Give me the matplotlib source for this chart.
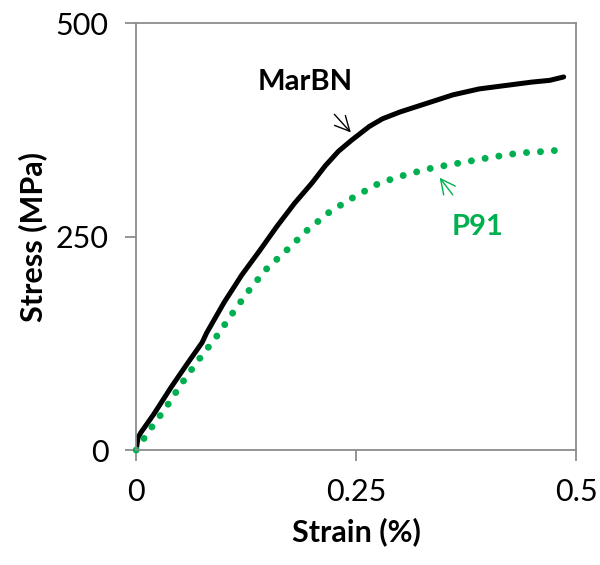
import matplotlib
matplotlib.use("Agg")
import matplotlib.pyplot as plt

# MarBN (solid black) - strain (%), stress (MPa)
marbn_strain = [0, 0.002, 0.005, 0.02, 0.04, 0.06, 0.075, 0.08, 0.09, 0.10, 0.12,
                0.14, 0.16, 0.18, 0.20, 0.215, 0.23, 0.245, 0.255, 0.265, 0.28, 0.30,
                0.33, 0.36, 0.39, 0.42, 0.45, 0.47, 0.486]
marbn_stress = [0, 14, 20, 42, 74, 104, 126, 137, 155, 173, 205,
                233, 262, 289, 313, 333, 350, 363, 371, 379, 388, 396,
                406, 416, 423, 427, 431, 433, 437]

# P91 (green dotted)
p91_strain = [0, 0.015, 0.034, 0.051, 0.069, 0.090, 0.108, 0.126, 0.147, 0.171,
              0.195, 0.220, 0.247, 0.277, 0.308, 0.339, 0.372, 0.404, 0.436, 0.469, 0.486]
p91_stress = [0, 23, 50, 77, 103, 131, 158, 184, 211, 234,
              258, 279, 296, 313, 323, 331, 337, 343, 348, 350, 352]

x_ticks = [0, 0.25, 0.5]
x_labels = ["0", "0.25", "0.5"]
y_ticks = [0, 250, 500]

green = "#00B050"
grey = "#8c8c8c"

plt.rcParams['font.family'] = ['Lato', 'DejaVu Sans']

fig = plt.figure(figsize=(6, 5.65), dpi=100)
ax = fig.add_axes([0.227, 0.2035, 0.733, 0.7555])

ax.plot(marbn_strain, marbn_stress, color="black", lw=3.6,
        solid_joinstyle="round", solid_capstyle="round")
ax.plot(p91_strain, p91_stress, color=green, lw=5,
        linestyle=(0, (0.01, 2.0)), dash_capstyle="round", clip_on=False)

ax.annotate("MarBN", xy=(0.244, 372), xytext=(0.192, 431), ha="center", va="center",
            fontsize=21, fontweight="bold", color="black",
            arrowprops=dict(arrowstyle="->,head_length=0.5,head_width=0.25",
                            color="black", lw=1, shrinkA=16, shrinkB=0))
ax.annotate("P91", xy=(0.345, 319), xytext=(0.388, 261), ha="center", va="center",
            fontsize=21, fontweight="bold", color=green,
            arrowprops=dict(arrowstyle="->,head_length=0.5,head_width=0.25",
                            color=green, lw=1, shrinkA=15, shrinkB=0))

ax.set_xlim(0, 0.5)
ax.set_ylim(0, 500)
ax.set_xticks(x_ticks)
ax.set_xticklabels(x_labels)
ax.set_yticks(y_ticks)
for s in ax.spines.values():
    s.set_color(grey)
    s.set_linewidth(1.3)
ax.tick_params(direction="out", length=8, width=1.3, color=grey, labelsize=22, pad=12)

ax.set_xlabel("Strain (%)", fontsize=22, fontweight="bold", labelpad=8)
ax.set_ylabel("Stress (MPa)", fontsize=22, fontweight="bold", labelpad=6)

fig.savefig("out.png", dpi=100)
